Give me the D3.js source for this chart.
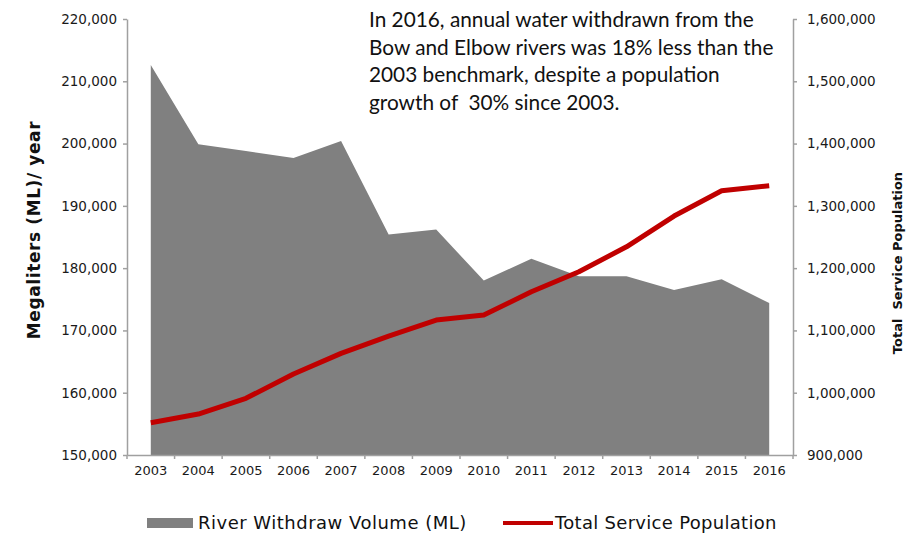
<!DOCTYPE html>
<html>
<head>
<meta charset="utf-8">
<script src="https://cdn.jsdelivr.net/npm/d3@7"></script>
<style>
  body { margin: 0; background: #fff; }
  svg { display: block; }
</style>
</head>
<body>
<svg id="chart"></svg>
<script>
var years = ["2003", "2004", "2005", "2006", "2007", "2008", "2009", "2010", "2011", "2012", "2013", "2014", "2015", "2016"];
var withdrawVolume = [212600, 199900, 198800, 197700, 200400, 185400, 186200, 178000, 181500, 178700, 178700, 176500, 178200, 174400];
var servicePopulation = [951800, 965800, 991000, 1030000, 1063200, 1091000, 1116700, 1124700, 1162100, 1194200, 1234300, 1283600, 1324200, 1332300];
var leftTicks = [150000, 160000, 170000, 180000, 190000, 200000, 210000, 220000];
var rightTicks = [900000, 1000000, 1100000, 1200000, 1300000, 1400000, 1500000, 1600000];
var note = [
  "In 2016, annual water withdrawn from the",
  "Bow and Elbow rivers was 18% less than the",
  "2003 benchmark, despite a population",
  "growth of  30% since 2003."
];

var width = 917, height = 534;
var plotLeft = 127, plotRight = 793, plotTop = 19, plotBottom = 455;
var axisColor = "#a0a0a0";
var labelFont = "'DejaVu Sans', sans-serif";

var svg = d3.select("#chart")
  .attr("width", width)
  .attr("height", height);

var x = d3.scaleBand()
  .domain(years)
  .range([plotLeft, plotRight]);

var yLeft = d3.scaleLinear()
  .domain([150000, 220000])
  .range([plotBottom, plotTop]);

var yRight = d3.scaleLinear()
  .domain([900000, 1600000])
  .range([plotBottom, plotTop]);

var cx = d => x(d) + x.bandwidth() / 2;

// gray area for river withdrawal
var area = d3.area()
  .x((d, i) => cx(years[i]))
  .y0(plotBottom)
  .y1(d => yLeft(d));

svg.append("path")
  .datum(withdrawVolume)
  .attr("d", area)
  .attr("fill", "#808080");

// red line for population
var line = d3.line()
  .x((d, i) => cx(years[i]))
  .y(d => yRight(d));

svg.append("path")
  .datum(servicePopulation)
  .attr("d", line)
  .attr("fill", "none")
  .attr("stroke", "#c00000")
  .attr("stroke-width", 5)
  .attr("stroke-linejoin", "round");

// left axis
var gLeft = svg.append("g")
  .attr("transform", "translate(" + plotLeft + ",0)")
  .call(d3.axisLeft(yLeft).tickValues(leftTicks).tickFormat(d3.format(",")).tickSize(4).tickSizeOuter(0).tickPadding(6));

// right axis
var gRight = svg.append("g")
  .attr("transform", "translate(" + plotRight + ",0)")
  .call(d3.axisRight(yRight).tickValues(rightTicks).tickFormat(d3.format(",")).tickSize(4).tickSizeOuter(0).tickPadding(10));

// bottom axis: labels at band centres, ticks at band edges
var gBottom = svg.append("g")
  .attr("transform", "translate(0," + plotBottom + ")")
  .call(d3.axisBottom(x).tickSize(0).tickPadding(11));

gBottom.selectAll(".edge")
  .data(years.concat(["end"]))
  .join("line")
  .attr("class", "edge")
  .attr("x1", d => d === "end" ? plotRight : x(d))
  .attr("x2", d => d === "end" ? plotRight : x(d))
  .attr("y1", 0)
  .attr("y2", 4);

[gLeft, gRight, gBottom].forEach(g => {
  g.selectAll("path.domain").attr("stroke", axisColor).attr("stroke-width", 1.5);
  g.selectAll("line").attr("stroke", axisColor).attr("stroke-width", 1.5);
  g.selectAll("text")
    .attr("fill", "#1a1a1a")
    .style("font-family", labelFont)
    .style("font-size", "13.5px");
});
gBottom.selectAll("text").style("font-size", "13px");

// axis titles
svg.append("text")
  .attr("transform", "translate(40,230) rotate(-90)")
  .attr("text-anchor", "middle")
  .style("font-family", labelFont)
  .style("font-weight", "bold")
  .style("font-size", "17px")
  .style("letter-spacing", "0.6px")
  .attr("fill", "#111")
  .text("Megaliters (ML)/ year");

svg.append("text")
  .attr("transform", "translate(902,263) rotate(-90)")
  .attr("text-anchor", "middle")
  .style("font-family", labelFont)
  .style("font-weight", "bold")
  .style("font-size", "13px")
  .style("white-space", "pre")
  .attr("fill", "#111")
  .text("Total  Service Population");

// annotation
svg.append("text")
  .style("font-family", "Lato, sans-serif")
  .style("font-size", "20.8px")
  .attr("fill", "#111")
  .selectAll("tspan")
  .data(note)
  .join("tspan")
  .attr("x", 369)
  .attr("y", (d, i) => 27 + i * 27.5)
  .style("white-space", "pre")
  .text(d => d);

// legend
var legend = svg.append("g");
legend.append("rect")
  .attr("x", 147).attr("y", 518)
  .attr("width", 46).attr("height", 10)
  .attr("fill", "#808080");
legend.append("text")
  .attr("x", 198).attr("y", 529)
  .style("font-family", labelFont)
  .style("font-size", "18px")
  .style("letter-spacing", "0.5px")
  .attr("fill", "#111")
  .text("River Withdraw Volume (ML)");
legend.append("line")
  .attr("x1", 503).attr("x2", 553)
  .attr("y1", 523).attr("y2", 523)
  .attr("stroke", "#c00000")
  .attr("stroke-width", 4);
legend.append("text")
  .attr("x", 555).attr("y", 529)
  .style("font-family", labelFont)
  .style("font-size", "18px")
  .style("letter-spacing", "0.3px")
  .attr("fill", "#111")
  .text("Total Service Population");
</script>
</body>
</html>
